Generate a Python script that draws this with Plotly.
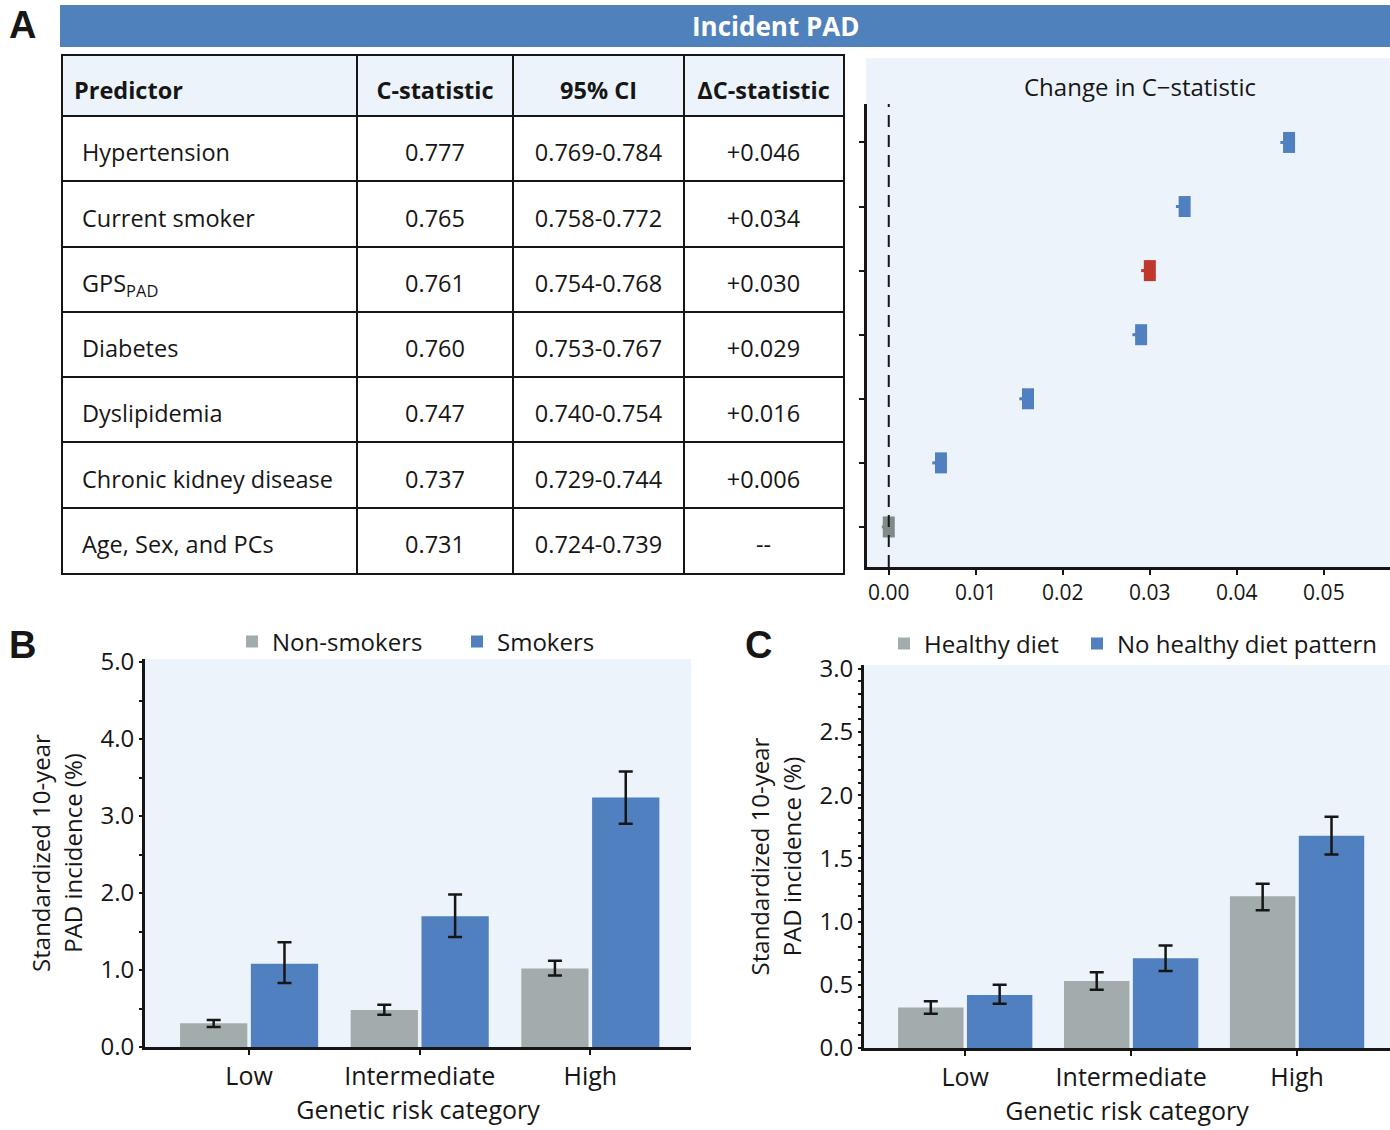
import plotly.graph_objects as go

W, H = 1390, 1130

# ---- Panel A data ----
TABLE_HEADER = ["Predictor", "C-statistic", "95% CI", "ΔC-statistic"]
PREDICTORS = ["Hypertension", "Current smoker", "GPS<sub>PAD</sub>", "Diabetes",
              "Dyslipidemia", "Chronic kidney disease", "Age, Sex, and PCs"]
C_STATISTIC = ["0.777", "0.765", "0.761", "0.760", "0.747", "0.737", "0.731"]
CI_95 = ["0.769-0.784", "0.758-0.772", "0.754-0.768", "0.753-0.767",
         "0.740-0.754", "0.729-0.744", "0.724-0.739"]
DELTA_LABELS = ["+0.046", "+0.034", "+0.030", "+0.029", "+0.016", "+0.006", "--"]
DELTA_C = [0.046, 0.034, 0.030, 0.029, 0.016, 0.006, 0.000]
DELTA_ERR_MINUS = [0.0010, 0.0010, 0.0010, 0.0010, 0.0010, 0.0010, 0.0008]
DELTA_ERR_PLUS = [0.0005, 0.0005, 0.0005, 0.0005, 0.0005, 0.0005, 0.0005]

# ---- Panel B data ----
RISK_CATEGORIES = ["Low", "Intermediate", "High"]
NON_SMOKERS = [0.31, 0.48, 1.02]
NON_SMOKERS_LO = [0.26, 0.42, 0.93]
NON_SMOKERS_HI = [0.35, 0.55, 1.12]
SMOKERS = [1.08, 1.70, 3.24]
SMOKERS_LO = [0.83, 1.43, 2.90]
SMOKERS_HI = [1.36, 1.98, 3.58]

# ---- Panel C data ----
HEALTHY_DIET = [0.32, 0.53, 1.20]
HEALTHY_DIET_LO = [0.27, 0.46, 1.09]
HEALTHY_DIET_HI = [0.37, 0.60, 1.30]
NO_HEALTHY_DIET = [0.42, 0.71, 1.68]
NO_HEALTHY_DIET_LO = [0.35, 0.61, 1.53]
NO_HEALTHY_DIET_HI = [0.50, 0.81, 1.83]

BLUE = "#5080BF"
GRAY = "#A3ACAC"
RED = "#C0372E"
DARK_GRAY = "#7F8A89"
LIGHT_BG = "#ECF3FA"
INK = "#161616"
FONT = "Open Sans"

POINT_COLORS = [BLUE, BLUE, RED, BLUE, BLUE, BLUE, DARK_GRAY]

# table geometry (pixels inside the table)
COL_EDGES = [0, 294, 450, 621, 780]
ROW_EDGES = [0, 60, 125, 191, 256, 321, 386, 452, 517]


def px(x):
    """Picture pixel -> paper fraction."""
    return x / W


def py(y):
    return 1 - y / H


fig = go.Figure()

# ---- table as text on its own axes ----
columns = [PREDICTORS, C_STATISTIC, CI_95, DELTA_LABELS]
for i, (header, values) in enumerate(zip(TABLE_HEADER, columns)):
    if i == 0:
        xs = [COL_EDGES[0] + 11] + [COL_EDGES[0] + 19] * len(values)
        pos = "middle right"
    else:
        mid = (COL_EDGES[i] + COL_EDGES[i + 1]) / 2
        xs = [mid] * (len(values) + 1)
        pos = "middle center"
    ys = [(ROW_EDGES[r] + ROW_EDGES[r + 1]) / 2 + 7 for r in range(len(values) + 1)]
    fig.add_trace(go.Scatter(
        x=xs, y=ys, text=[f"<b>{header}</b>"] + values,
        mode="text", textposition=pos,
        textfont=dict(size=23.5, color=INK, family=FONT),
        xaxis="x", yaxis="y", showlegend=False, hoverinfo="skip"))

# ---- change in C-statistic ----
for name, val, lo, hi, col in zip(PREDICTORS, DELTA_C, DELTA_ERR_MINUS,
                                   DELTA_ERR_PLUS, POINT_COLORS):
    fig.add_trace(go.Scatter(
        x=[val], y=[name], mode="markers",
        marker=dict(symbol="line-ns", size=15, color=col,
                    line=dict(width=12, color=col)),
        error_x=dict(type="data", array=[hi], arrayminus=[lo],
                     color=col, thickness=3, width=0),
        xaxis="x2", yaxis="y2", showlegend=False))


def add_bars(values, lo, hi, name, color, xa, ya, legend):
    fig.add_trace(go.Bar(
        x=RISK_CATEGORIES, y=values, name=name,
        marker=dict(color=color, line=dict(width=0)),
        error_y=dict(type="data",
                     array=[h - v for h, v in zip(hi, values)],
                     arrayminus=[v - l for v, l in zip(values, lo)],
                     color=INK, thickness=2.5, width=7),
        xaxis=xa, yaxis=ya, legend=legend))


add_bars(NON_SMOKERS, NON_SMOKERS_LO, NON_SMOKERS_HI, "Non-smokers", GRAY, "x3", "y3", "legend")
add_bars(SMOKERS, SMOKERS_LO, SMOKERS_HI, "Smokers", BLUE, "x3", "y3", "legend")
add_bars(HEALTHY_DIET, HEALTHY_DIET_LO, HEALTHY_DIET_HI, "Healthy diet", GRAY, "x4", "y4", "legend2")
add_bars(NO_HEALTHY_DIET, NO_HEALTHY_DIET_LO, NO_HEALTHY_DIET_HI, "No healthy diet pattern",
         BLUE, "x4", "y4", "legend3")

tick_font = dict(size=24, color=INK, family=FONT)
xtick_font = dict(size=25, color=INK, family=FONT)
ytitle = "Standardized 10-year<br>PAD incidence (%)"

bar_x = dict(showline=True, linewidth=3, linecolor=INK, ticks="outside", ticklen=5,
             tickwidth=2, tickcolor=INK, tickfont=xtick_font, showgrid=False,
             title=dict(text="Genetic risk category", font=xtick_font, standoff=8))
bar_y = dict(showline=True, linewidth=3, linecolor=INK, ticks="outside", ticklen=3,
             tickwidth=2, tickcolor=INK, tickfont=tick_font, showgrid=False,
             zeroline=False, tickformat=".1f",
             title=dict(text=ytitle, font=tick_font, standoff=12),
             minor=dict(ticks="outside", ticklen=3, tickwidth=2, tickcolor=INK, showgrid=False))

legend_style = dict(orientation="h", xanchor="left", yanchor="middle",
                    font=dict(size=24, color=INK, family=FONT), bgcolor="rgba(0,0,0,0)")

fig.update_layout(
    width=W, height=H,
    margin=dict(l=0, r=0, t=0, b=0, autoexpand=False),
    paper_bgcolor="white", plot_bgcolor="rgba(0,0,0,0)",
    font=dict(family=FONT, color=INK),
    barmode="group", bargap=0.17, bargroupgap=0.05,
    xaxis=dict(domain=[px(63), px(843)], range=[0, COL_EDGES[-1]], tickvals=COL_EDGES,
               showgrid=True, gridcolor=INK, gridwidth=2, showticklabels=False,
               zeroline=False, showline=True, mirror=True, linecolor=INK, linewidth=2,
               anchor="y"),
    yaxis=dict(domain=[py(573), py(56)], range=[ROW_EDGES[-1], 0], tickvals=ROW_EDGES,
               showgrid=True, gridcolor=INK, gridwidth=2, showticklabels=False,
               zeroline=False, showline=True, mirror=True, linecolor=INK, linewidth=2,
               anchor="x"),
    xaxis2=dict(domain=[px(867), 1], range=[-0.0025, 0.0576], anchor="y2",
                tickvals=[0, 0.01, 0.02, 0.03, 0.04, 0.05], tickformat=".2f",
                ticks="outside", ticklen=5, tickwidth=2, tickcolor=INK,
                tickfont=dict(size=21, color=INK, family=FONT),
                showline=True, linewidth=3, linecolor=INK, showgrid=False, zeroline=False),
    yaxis2=dict(domain=[py(567), py(104)], type="category", anchor="x2",
                categoryorder="array", categoryarray=PREDICTORS[::-1],
                range=[-0.625, 6.6], showticklabels=False,
                ticks="outside", ticklen=5, tickwidth=2, tickcolor=INK,
                showline=True, linewidth=3, linecolor=INK, showgrid=False),
    xaxis3=dict(domain=[px(145), px(691)], range=[-0.61, 2.59], anchor="y3", **bar_x),
    yaxis3=dict(domain=[py(1047), py(659)], range=[0, 5.04], anchor="x3",
                tickvals=[0, 1, 2, 3, 4, 5], **bar_y),
    xaxis4=dict(domain=[px(864), 1], range=[-0.61, 2.56], anchor="y4", **bar_x),
    yaxis4=dict(domain=[py(1048), py(665)], range=[0, 3.03], anchor="x4",
                dtick=0.5, **bar_y),
    legend=dict(x=px(232), y=py(642), entrywidth=180, entrywidthmode="pixels", **legend_style),
    legend2=dict(x=px(884), y=py(644), **legend_style),
    legend3=dict(x=px(1077), y=py(644), **legend_style),
)

fig.update_yaxes(minor=dict(dtick=0.5), selector=dict(anchor="x3"))

# backgrounds, header bar, dashed reference line
fig.add_shape(type="rect", xref="paper", yref="paper", x0=px(60), x1=1, y0=py(47), y1=py(5),
              fillcolor="#4F81BD", line=dict(width=0), layer="below")
fig.add_shape(type="rect", xref="x", yref="y", x0=0, x1=COL_EDGES[-1], y0=0, y1=ROW_EDGES[1],
              fillcolor=LIGHT_BG, line=dict(width=0), layer="below")
fig.add_shape(type="rect", xref="paper", yref="paper", x0=px(866), x1=1, y0=py(567), y1=py(58),
              fillcolor=LIGHT_BG, line=dict(width=0), layer="below")
for xa, ya in [("x3", "y3"), ("x4", "y4")]:
    fig.add_shape(type="rect", xref=f"{xa} domain", yref=f"{ya} domain", x0=0, x1=1, y0=0, y1=1,
                  fillcolor=LIGHT_BG, line=dict(width=0), layer="below")
fig.add_shape(type="line", xref="x2", yref="y2 domain", x0=0, x1=0, y0=0, y1=1,
              line=dict(color=INK, width=2, dash="12px,8px"))

# panel letters and titles
for letter, x, y in [("A", 22, 25), ("B", 22, 645), ("C", 758, 645)]:
    fig.add_annotation(text=f"<b>{letter}</b>", x=px(x), y=py(y), xref="paper", yref="paper",
                       xanchor="center", yanchor="middle", showarrow=False,
                       font=dict(size=38, color=INK, family="Liberation Sans"))
fig.add_annotation(text="<b>Incident PAD</b>", x=px(775), y=py(26), xref="paper", yref="paper",
                   xanchor="center", yanchor="middle", showarrow=False,
                   font=dict(size=26, color="white", family=FONT))
fig.add_annotation(text="Change in C\u2212statistic", x=px(1140), y=py(87), xref="paper",
                   yref="paper", xanchor="center", yanchor="middle", showarrow=False,
                   font=dict(size=24, color=INK, family=FONT))

# the page's default body margin would shift the figure by 8 px
fig.write_html("out.html", config={"displayModeBar": False},
               post_script="document.body.style.margin='0';document.body.style.overflow='hidden';")
